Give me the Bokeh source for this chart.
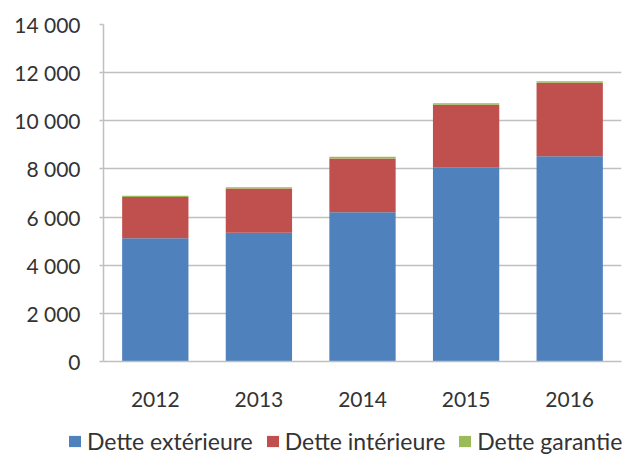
from bokeh.plotting import figure
from bokeh.layouts import column
from bokeh.models import Range1d, FixedTicker, Legend, LegendItem, ColumnDataSource
from bokeh.embed import file_html
from bokeh.resources import INLINE

years = ["2012", "2013", "2014", "2015", "2016"]
dette_exterieure = [5120, 5350, 6200, 8070, 8530]
dette_interieure = [1710, 1840, 2230, 2600, 3050]
dette_garantie = [55, 45, 80, 55, 65]
series_names = ["Dette extérieure", "Dette intérieure", "Dette garantie"]
series_colors = ["#4f81bd", "#c0504d", "#9bbb59"]
y_ticks = [0, 2000, 4000, 6000, 8000, 10000, 12000, 14000]
y_tick_labels = ["0", "2 000", "4 000", "6 000", "8 000", "10 000", "12 000", "14 000"]

FONT = "Lato"
TXT = "#333333"
GRID = "#c0c0c0"

source = ColumnDataSource(dict(
    year=years, ext=dette_exterieure, int=dette_interieure, gar=dette_garantie))

p = figure(x_range=years, y_range=Range1d(0, 14000), width=633, height=415,
           output_backend="svg", toolbar_location=None,
           min_border_left=103, min_border_right=12, min_border_top=24, min_border_bottom=54)
p.outline_line_color = None
p.frame_align = False

renderers = p.vbar_stack(["ext", "int", "gar"], x="year", width=0.64, source=source,
                         color=series_colors, line_color=None)

p.x_range.range_padding = 0
p.xgrid.grid_line_color = None
p.ygrid.grid_line_color = GRID
p.ygrid.grid_line_width = 1.5
p.yaxis.ticker = FixedTicker(ticks=y_ticks)
p.yaxis.major_label_overrides = {t: l for t, l in zip(y_ticks, y_tick_labels)}

for ax in (p.xaxis[0], p.yaxis[0]):
    ax.axis_line_color = GRID
    ax.axis_line_width = 1.5
    ax.major_label_text_font = FONT
    ax.major_label_text_font_size = "21px"
    ax.major_label_text_color = TXT
    ax.minor_tick_line_color = None

p.xaxis.major_tick_line_color = None
p.xaxis.major_label_standoff = 24
p.yaxis.major_tick_line_color = GRID
p.yaxis.major_tick_line_width = 1.5
p.yaxis.major_tick_in = 0
p.yaxis.major_tick_out = 4
p.yaxis.major_label_standoff = 19

# legend strip below the chart (same series, drawn far below its visible range)
lg = figure(width=633, height=40, x_range=years, y_range=Range1d(60000, 60001),
            output_backend="svg", toolbar_location=None,
            x_axis_type=None, y_axis_type=None, min_border=0,
            min_border_left=0, min_border_right=0, min_border_top=0, min_border_bottom=0)
lg.outline_line_color = None
lg.frame_align = False
lg.xgrid.grid_line_color = None
lg.ygrid.grid_line_color = None
lg_renderers = lg.vbar_stack(["ext", "int", "gar"], x="year", width=0.64, source=source,
                             color=series_colors, line_color=None)

legend = Legend(items=[LegendItem(label=n, renderers=[r]) for n, r in zip(series_names, lg_renderers)],
                orientation="horizontal", location=(67, 0))
legend.label_text_font = FONT
legend.label_text_font_size = "23px"
legend.label_text_color = TXT
legend.glyph_width = 15
legend.glyph_height = 14
legend.label_standoff = 5
legend.spacing = 12
legend.padding = 0
legend.margin = 0
legend.border_line_color = None
legend.background_fill_alpha = 0
lg.add_layout(legend, "center")

open("out.html", "w").write(file_html(column(p, lg), INLINE))
